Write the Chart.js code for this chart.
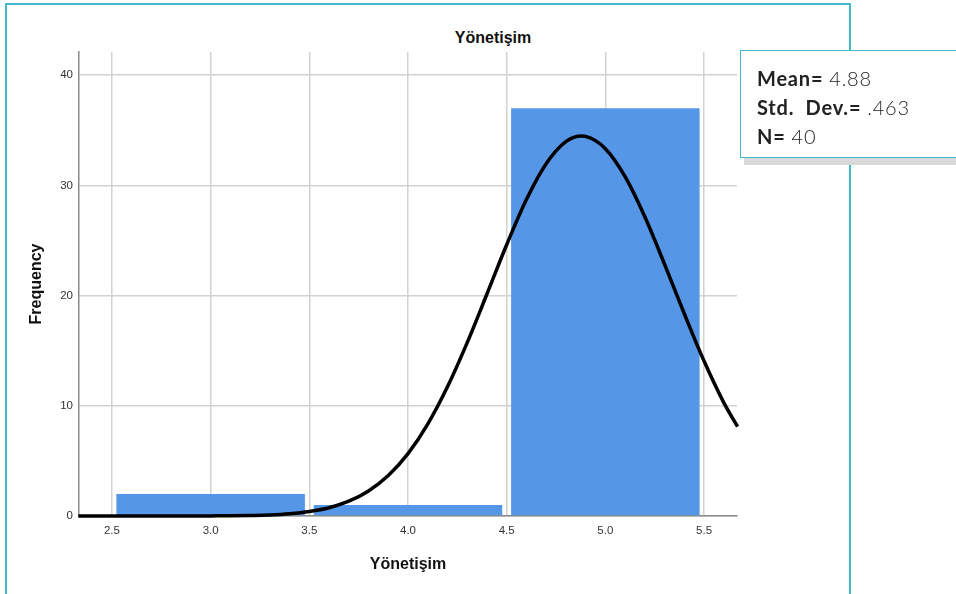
<!DOCTYPE html>
<html>
<head>
<meta charset="utf-8">
<script src="https://cdn.jsdelivr.net/npm/chart.js@4"></script>
<style>
  html, body { margin: 0; padding: 0; background: #fff; }
  #stage { position: relative; width: 956px; height: 594px; overflow: hidden; }
  #frame { position: absolute; left: 5px; top: 3px; width: 846px; height: 640px;
           border: 2px solid #43b8cc; box-sizing: border-box; }
  #heading { position: absolute; left: 0; top: 29px; width: 986px; text-align: center;
             font: bold 16px "Liberation Sans", Arial, sans-serif; color: #111; }
  #plot { position: absolute; left: 0; top: 0; }
  #stats { position: absolute; left: 740px; top: 50px; width: 240px; height: 108px;
           box-sizing: border-box; border: 1.5px solid #43b8cc; background: #fff;
           box-shadow: 4px 7px 0 #d9d9d9; padding: 13px 0 0 16px;
           font-family: Lato, "Noto Sans", sans-serif; font-size: 20px; line-height: 29px;
           letter-spacing: 0.8px; color: #222; }
  #stats b { font-weight: 700; }
  #stats span { font-weight: 300; }
</style>
</head>
<body>
<div id="stage">
  <div id="frame"></div>
  <div id="heading">Yönetişim</div>
  <canvas id="plot" width="956" height="594"></canvas>
  <div id="stats">
    <div><b>Mean=</b> <span>4.88</span></div>
    <div><b>Std.&nbsp; Dev.=</b> <span>.463</span></div>
    <div><b>N=</b> <span>40</span></div>
  </div>
</div>
<script>
// Histogram bins (bin centres) and their frequencies
const binCenters = [3.0, 4.0, 5.0];
const frequencies = [2, 1, 37];

// Fitted normal curve, sampled along the axis
const curveX = [2.33, 2.5, 2.7, 2.9, 3.0, 3.1, 3.2, 3.3, 3.4, 3.5, 3.6, 3.7, 3.8, 3.9, 4.0,
                4.1, 4.2, 4.3, 4.4, 4.5, 4.6, 4.7, 4.8, 4.88, 4.9, 5.0, 5.1, 5.2, 5.3, 5.4,
                5.5, 5.6, 5.67];
const curveY = [0, 0, 0, 0, 0.01, 0.02, 0.05, 0.1, 0.21, 0.41, 0.75, 1.34, 2.27, 3.67, 5.66,
                8.34, 11.72, 15.73, 20.14, 24.61, 28.71, 31.96, 33.96, 34.47, 34.44, 33.33, 30.79, 27.15, 22.84, 18.35,
                14.06, 10.29, 8.1];

// Axis ticks
const xTicks = [2.5, 3.0, 3.5, 4.0, 4.5, 5.0, 5.5];
const yTicks = [0, 10, 20, 30, 40];
const xRange = [2.333, 5.667];
const yRange = [0, 42.1];

const tickFont = { family: '"Liberation Sans", Arial, sans-serif', size: 11.5 };
const titleFont = { family: '"Liberation Sans", Arial, sans-serif', size: 16, weight: 'bold' };

new Chart(document.getElementById('plot'), {
  type: 'bar',
  data: {
    datasets: [
      {
        type: 'line',
        data: curveX.map((x, i) => ({ x, y: curveY[i] })),
        borderColor: '#000',
        borderWidth: 3.5,
        pointRadius: 0,
        cubicInterpolationMode: 'monotone',
        clip: 4,
        order: 0
      },
      {
        data: binCenters.map((x, i) => ({ x, y: frequencies[i] })),
        backgroundColor: '#5596e6',
        borderWidth: 0,
        categoryPercentage: 1,
        barPercentage: 1.91,
        order: 1
      }
    ]
  },
  options: {
    responsive: false,
    animation: false,
    devicePixelRatio: 1,
    layout: { padding: { top: 52, right: 219, bottom: 0, left: 0 } },
    plugins: { legend: { display: false }, tooltip: { enabled: false } },
    scales: {
      x: {
        type: 'linear',
        min: xRange[0],
        max: xRange[1],
        offset: false,
        afterFit: s => { s.height = 78; },
        afterBuildTicks: s => { s.ticks = xTicks.map(v => ({ value: v })); },
        ticks: { callback: v => Number(v).toFixed(1), font: tickFont, color: '#333',
                 padding: 8, maxRotation: 0, autoSkip: false },
        grid: { color: '#d2d2d2', lineWidth: 1.5, drawTicks: false, offset: false },
        border: { color: '#8a8a8a', width: 1.5 },
        title: { display: true, text: 'Yönetişim', font: titleFont, color: '#111',
                 padding: { top: 0, bottom: 20 } }
      },
      y: {
        min: yRange[0],
        max: yRange[1],
        afterFit: s => { s.width = 79; },
        afterBuildTicks: s => { s.ticks = yTicks.map(v => ({ value: v })); },
        ticks: { font: tickFont, color: '#333', padding: 6 },
        grid: { color: '#d2d2d2', lineWidth: 1.5, drawTicks: false },
        border: { color: '#8a8a8a', width: 1.5 },
        title: { display: true, text: 'Frequency', font: titleFont, color: '#111',
                 padding: { top: 27, bottom: 0 } }
      }
    }
  }
});
</script>
</body>
</html>
